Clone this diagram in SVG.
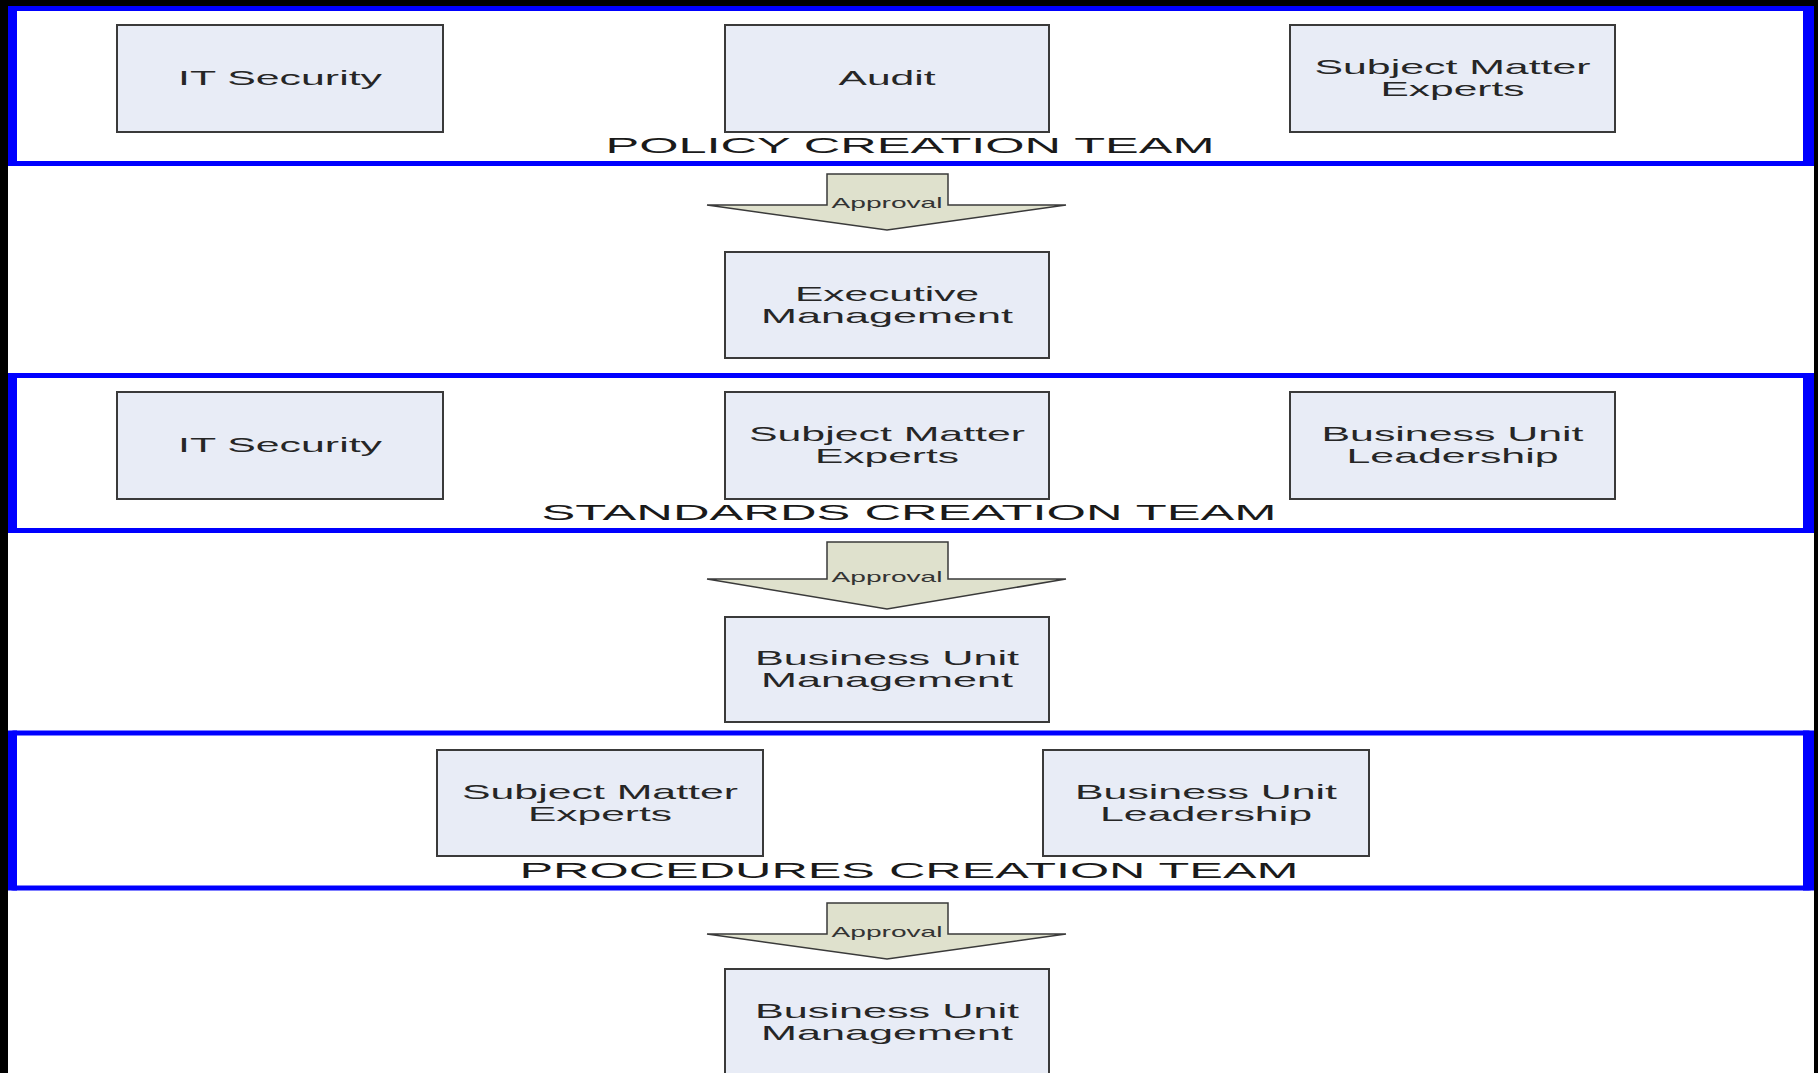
<svg xmlns="http://www.w3.org/2000/svg" width="1818" height="1073" viewBox="0 0 1818 1073">
<defs>
<style>
.frame{fill:#ffffff;stroke:#0000ff;stroke-width:5}
.side{fill:#0000ff}
.box{fill:#e8ecf6;stroke:#3a3a3a;stroke-width:2}
.arrow{fill:#dfe1cd;stroke:#3a3a3a;stroke-width:1.5;stroke-linejoin:miter}
.t{font-family:"Liberation Sans",Arial,sans-serif;font-size:21px;fill:#262626;text-anchor:middle}
.team{font-family:"Liberation Sans",Arial,sans-serif;font-size:22px;fill:#1a1a1a;text-anchor:middle}
.ap{font-family:"Liberation Sans",Arial,sans-serif;font-size:15px;fill:#333333;text-anchor:middle}
</style>
</defs>
<rect x="0" y="0" width="1818" height="1073" fill="#000000"/>
<rect x="8" y="6" width="1806" height="1067" fill="#ffffff"/>

<g id="policy-team">
<rect class="frame" x="10.5" y="8.5" width="1801" height="155" rx="3"/>
<rect class="side" x="8" y="6" width="9" height="160"/>
<rect class="side" x="1803" y="6" width="11" height="160"/>
<text class="team" x="910" y="153" textLength="609" lengthAdjust="spacingAndGlyphs">POLICY CREATION TEAM</text>
</g>
<g id="policy-it-security">
<rect class="box" x="117" y="25" width="326" height="107"/>
<text class="t" x="280" y="84.5" textLength="204" lengthAdjust="spacingAndGlyphs">IT Security</text>
</g>
<g id="policy-audit">
<rect class="box" x="725" y="25" width="324" height="107"/>
<text class="t" x="887" y="84.5" textLength="97" lengthAdjust="spacingAndGlyphs">Audit</text>
</g>
<g id="policy-sme">
<rect class="box" x="1290" y="25" width="325" height="107"/>
<text class="t" x="1452.5" y="74" textLength="276" lengthAdjust="spacingAndGlyphs">Subject Matter</text>
<text class="t" x="1452.5" y="96" textLength="144" lengthAdjust="spacingAndGlyphs">Experts</text>
</g>

<g id="exec-mgmt">
<rect class="box" x="725" y="252" width="324" height="106"/>
<text class="t" x="887" y="300.5" textLength="184" lengthAdjust="spacingAndGlyphs">Executive</text>
<text class="t" x="887" y="322.5" textLength="252" lengthAdjust="spacingAndGlyphs">Management</text>
</g>

<g id="standards-team">
<rect class="frame" x="10.5" y="375.5" width="1801" height="155" rx="3"/>
<rect class="side" x="8" y="373" width="9" height="160"/>
<rect class="side" x="1803" y="373" width="11" height="160"/>
<text class="team" x="909" y="520" textLength="735" lengthAdjust="spacingAndGlyphs">STANDARDS CREATION TEAM</text>
</g>
<g id="standards-it-security">
<rect class="box" x="117" y="392" width="326" height="107"/>
<text class="t" x="280" y="451.5" textLength="204" lengthAdjust="spacingAndGlyphs">IT Security</text>
</g>
<g id="standards-sme">
<rect class="box" x="725" y="392" width="324" height="107"/>
<text class="t" x="887" y="441" textLength="276" lengthAdjust="spacingAndGlyphs">Subject Matter</text>
<text class="t" x="887" y="463" textLength="144" lengthAdjust="spacingAndGlyphs">Experts</text>
</g>
<g id="standards-bul">
<rect class="box" x="1290" y="392" width="325" height="107"/>
<text class="t" x="1452.5" y="441" textLength="262" lengthAdjust="spacingAndGlyphs">Business Unit</text>
<text class="t" x="1452.5" y="463" textLength="212" lengthAdjust="spacingAndGlyphs">Leadership</text>
</g>

<g id="bu-mgmt-1">
<rect class="box" x="725" y="617" width="324" height="105"/>
<text class="t" x="887" y="665" textLength="264" lengthAdjust="spacingAndGlyphs">Business Unit</text>
<text class="t" x="887" y="687" textLength="252" lengthAdjust="spacingAndGlyphs">Management</text>
</g>

<g id="procedures-team">
<rect class="frame" x="10.5" y="733" width="1801" height="155" rx="3"/>
<rect class="side" x="8" y="730.5" width="9" height="160"/>
<rect class="side" x="1803" y="730.5" width="11" height="160"/>
<text class="team" x="909" y="877.5" textLength="779" lengthAdjust="spacingAndGlyphs">PROCEDURES CREATION TEAM</text>
</g>
<g id="procedures-sme">
<rect class="box" x="437" y="750" width="326" height="106"/>
<text class="t" x="600" y="798.5" textLength="276" lengthAdjust="spacingAndGlyphs">Subject Matter</text>
<text class="t" x="600" y="820.5" textLength="144" lengthAdjust="spacingAndGlyphs">Experts</text>
</g>
<g id="procedures-bul">
<rect class="box" x="1043" y="750" width="326" height="106"/>
<text class="t" x="1206" y="798.5" textLength="262" lengthAdjust="spacingAndGlyphs">Business Unit</text>
<text class="t" x="1206" y="820.5" textLength="212" lengthAdjust="spacingAndGlyphs">Leadership</text>
</g>

<g id="bu-mgmt-2">
<rect class="box" x="725" y="969" width="324" height="120"/>
<text class="t" x="887" y="1018" textLength="264" lengthAdjust="spacingAndGlyphs">Business Unit</text>
<text class="t" x="887" y="1040" textLength="252" lengthAdjust="spacingAndGlyphs">Management</text>
</g>

<g id="connectors">
<path class="arrow" d="M827,174 H948 V205 H1066 L887,230 L707,205 H827 Z"/>
<text class="ap" x="887" y="207.5" textLength="111" lengthAdjust="spacingAndGlyphs">Approval</text>
<path class="arrow" d="M827,542 H948 V579 H1066 L887,609 L707,579 H827 Z"/>
<text class="ap" x="887" y="582" textLength="111" lengthAdjust="spacingAndGlyphs">Approval</text>
<path class="arrow" d="M827,903 H948 V934 H1066 L887,959 L707,934 H827 Z"/>
<text class="ap" x="887" y="937" textLength="111" lengthAdjust="spacingAndGlyphs">Approval</text>
</g>
</svg>
